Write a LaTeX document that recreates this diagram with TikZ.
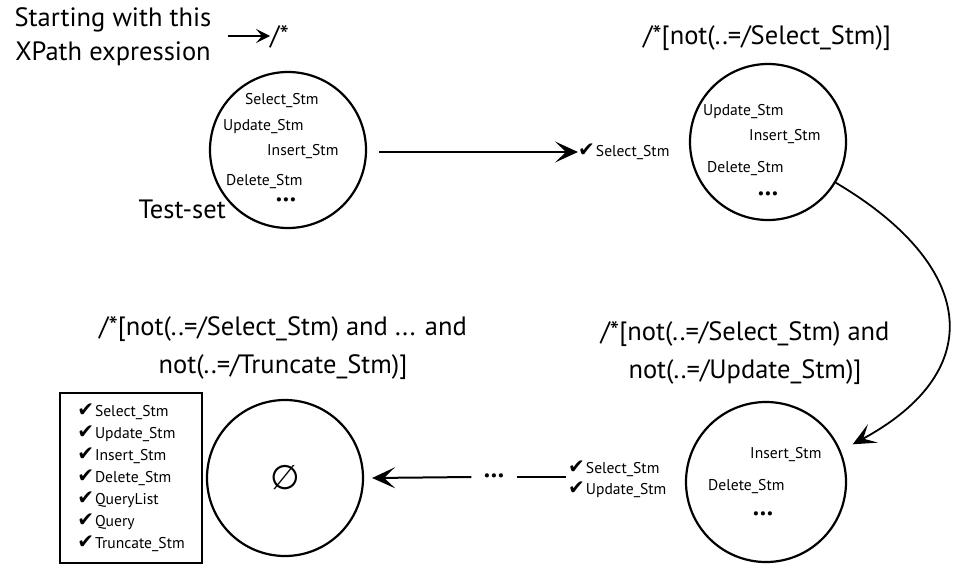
\documentclass[tikz,border=0pt]{standalone}
\usepackage{fontspec}
\setmainfont{PT Sans}
\newfontfamily\symfont{DejaVu Sans}
\usetikzlibrary{arrows.meta}
\newcommand\chk{{\symfont\fontsize{20}{20}\selectfont\char"2714}\hspace{1pt}}
\newcommand\moredots{{\fontsize{15}{15}\selectfont\char"2022\hspace{0.3pt}\char"2022\hspace{0.3pt}\char"2022}}

\begin{document}
\begin{tikzpicture}[x=1pt,y=-1pt,
  state/.style={circle,draw,line width=2.2pt,minimum size=156pt,inner sep=0pt},
  big/.style={font=\fontsize{26.5}{34}\selectfont,align=center,inner sep=0pt},
  bigwide/.style={font=\fontsize{26.5}{38}\selectfont,align=center,inner sep=0pt},
  small/.style={font=\fontsize{15.6}{21}\selectfont,inner sep=0pt},
  dotsnode/.style={inner sep=0pt,font=\moredots},
  tip/.style={-{Stealth[length=23pt,width=21pt,inset=11pt]}},
  stroke/.style={line width=2pt,tip}
]
\useasboundingbox (0,0) rectangle (960,565);

% starting expression
\node[big] (start) at (113,37) {Starting with this\\XPath expression};
\node[font=\fontsize{26.5}{26.5}\selectfont,inner sep=0pt,anchor=west] (root) at (270,37) {/*};
\coordinate (sa) at (228,36);
\draw[line width=1.4pt,-{Stealth[length=14pt,width=14pt,inset=6pt]}] (sa) -- ([yshift=1pt]root.west);

% first state: full test-set
\node[state] (s1) at (288,150) {};
\node[small,anchor=west] (s1a) at (245,101) {Select\_Stm};
\node[small,anchor=west] (s1b) at (223,127) {Update\_Stm};
\node[small,anchor=west] (s1c) at (267,152) {Insert\_Stm};
\node[small,anchor=west] (s1d) at (226,182) {Delete\_Stm};
\node[dotsnode] (s1e) at (286,201) {};
\node[big,anchor=east] (ts) at (226,209) {Test-set};

% second state
\node[big] (t2) at (767,38) {/*[not(..=/Select\_Stm)]};
\node[state] (s2) at (768,142) {};
\node[small,anchor=west] (s2b) at (703,112) {Update\_Stm};
\node[small,anchor=west] (s2c) at (749,137) {Insert\_Stm};
\node[small,anchor=west] (s2d) at (707,169) {Delete\_Stm};
\node[dotsnode] (s2e) at (768,195) {};
\node[small,anchor=west] (k2) at (578,152) {\chk Select\_Stm};
\draw[stroke] (s1.east) ++(12,2) coordinate (a1) (a1) -- (k2.west);

% third state
\node[bigwide] (t3) at (745,353) {/*[not(..=/Select\_Stm) and\\not(..=/Update\_Stm)]};
\node[state,minimum size=160pt] (s3) at (766,482) {};
\node[small,anchor=west] (s3c) at (750,455) {Insert\_Stm};
\node[small,anchor=west] (s3d) at (708,487) {Delete\_Stm};
\node[dotsnode] (s3e) at (763,515) {};
\node[small,anchor=west,align=left] (k3) at (568,479) {\chk Select\_Stm\\\chk Update\_Stm};
\draw[line width=1.8pt,tip] (s2.-31) .. controls (975,265) and (990,370) .. ([shift={(12,-6)}]s3.23);

% chain of further steps
\node[dotsnode] (gap) at (494,477) {};
\draw[line width=1.8pt] (k3.west|-gap) ++(-2,0) coordinate (g1) (g1) -- ([xshift=12pt]gap.east);

% final state: empty set
\node[bigwide] (t4) at (283,348) {/*[not(..=/Select\_Stm) and ... and\\not(..=/Truncate\_Stm)]};
\node[state] (s4) at (285,478) {};
\node[font=\symfont\fontsize{34}{34}\selectfont,inner sep=0pt] (empty) at (285,478) {∅};
\draw[stroke] ([xshift=-12pt]gap.west) -- ([xshift=8pt]s4.east);

\node[draw,line width=1.8pt,minimum width=142pt,minimum height=170pt,inner sep=0pt,
      font=\fontsize{15.6}{22}\selectfont,align=left] (box) at (131,478)
  {\chk Select\_Stm\\\chk Update\_Stm\\\chk Insert\_Stm\\\chk Delete\_Stm\\\chk QueryList\\\chk Query\\\chk Truncate\_Stm};
\end{tikzpicture}
\end{document}
